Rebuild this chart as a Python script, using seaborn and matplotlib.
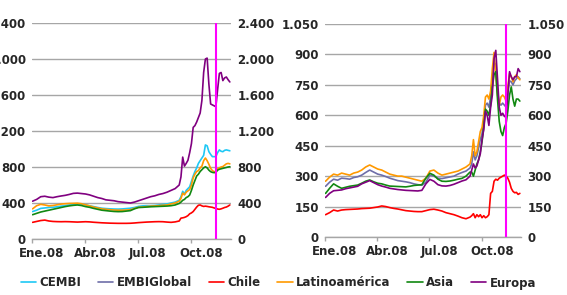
import pandas as pd
import numpy as np
import matplotlib
matplotlib.use("Agg")
import matplotlib.pyplot as plt
from matplotlib.lines import Line2D
import seaborn as sns

# ---------------- data ----------------
dates = list(pd.date_range("2008-01-02", "2008-09-10", freq="7D")) + \
        list(pd.date_range("2008-09-13", "2008-12-06", freq="3D"))

# left panel (corporate spreads, CEMBI)
left_cembi = [305, 320, 340, 345, 350, 352, 358, 365, 370, 378, 385, 390, 388, 380, 368, 360, 350, 342, 338,
              335, 333, 332, 334, 338, 342, 350, 362, 368, 370, 370, 372, 378, 385, 390, 400, 410, 430,
              470, 530, 500, 540, 560, 580, 640, 700, 750, 790, 840, 870, 900, 930, 1045, 1035, 970, 940,
              915, 915, 915, 960, 990, 975, 970, 985, 990, 985, 980]
left_chile = [185, 195, 205, 210, 200, 195, 193, 192, 193, 192, 190, 188, 190, 192, 190, 186, 183, 180, 178,
              176, 175, 174, 174, 174, 175, 178, 182, 185, 188, 190, 192, 193, 192, 188, 185, 190, 200,
              232, 235, 240, 248, 260, 280, 290, 305, 330, 355, 375, 378, 368, 362, 365, 362, 358, 355,
              352, 345, 340, 333, 330, 335, 342, 350, 355, 365, 378]
left_latam = [335, 370, 385, 378, 368, 372, 380, 388, 392, 395, 396, 398, 392, 380, 368, 355, 345, 335, 330,
              325, 322, 320, 320, 322, 325, 340, 352, 355, 360, 365, 367, 370, 375, 378, 390, 400, 420,
              450, 510, 490, 520, 535, 550, 600, 680, 720, 750, 760, 790, 810, 870, 900, 870, 830, 785,
              760, 748, 750, 780, 790, 800, 805, 820, 835, 840, 835]
left_asia = [270, 285, 300, 310, 320, 330, 340, 350, 360, 368, 374, 378, 372, 360, 352, 340, 330, 320, 315,
             310, 306, 304, 305, 310, 315, 335, 350, 352, 355, 358, 360, 362, 364, 366, 370, 378, 395,
             410, 430, 440, 460, 470, 489, 540, 600, 650, 700, 720, 750, 770, 790, 803, 790, 765, 748,
             740, 737, 740, 765, 775, 780, 785, 790, 795, 800, 803]
left_europa = [420, 440, 470, 475, 465, 460, 470, 478, 485, 495, 507, 510, 505, 500, 490, 475, 460, 450, 435,
               430, 425, 415, 410, 405, 400, 410, 425, 440, 455, 470, 480, 495, 505, 520, 540, 560, 600,
               690, 910, 810, 840, 875, 960, 1060, 1240, 1260, 1300, 1350, 1400, 1540, 1850, 2000, 2010, 1720, 1500,
               1490, 1480, 1470, 1660, 1840, 1850, 1760, 1790, 1800, 1770, 1745]

# right panel (sovereign spreads, EMBI)
right_embi = [250, 270, 285, 280, 290, 288, 285, 293, 297, 305, 318, 330, 320, 310, 305, 298, 290, 284, 278,
              275, 272, 268, 262, 258, 255, 270, 305, 300, 290, 288, 292, 296, 300, 310, 318, 325, 340,
              360, 420, 380, 400, 440, 480, 510, 570, 650, 660, 640, 690, 780, 860, 850, 720, 660, 650,
              660, 650, 640, 710, 770, 765, 750, 770, 780, 790, 780]
right_chile = [110, 120, 133, 128, 133, 135, 136, 137, 138, 140, 141, 142, 145, 148, 153, 150, 145, 141, 138,
               134, 130, 128, 126, 125, 125, 130, 135, 137, 133, 128, 120, 115, 110, 103, 95, 90, 98,
               105, 115, 95, 110, 100, 110, 95, 105, 95, 100, 110, 215, 225, 275, 285, 280, 290, 295,
               300, 305, 300, 290, 270, 240, 225, 218, 220, 210, 215]
right_latam = [275, 295, 310, 305, 315, 310, 305, 315, 320, 330, 345, 355, 345, 335, 330, 320, 310, 305, 300,
               300, 295, 290, 285, 280, 275, 290, 325, 330, 315, 305, 310, 315, 320, 325, 335, 345, 360,
               400, 480, 400, 420, 470, 520, 540, 600, 690, 700, 680, 720, 830, 910, 800, 700, 650, 690,
               700, 690, 670, 740, 805, 790, 765, 790, 800, 785, 775]
right_asia = [215, 240, 262, 250, 240, 245, 250, 253, 256, 265, 275, 281, 272, 265, 262, 256, 251, 250, 249,
              248, 247, 250, 254, 256, 258, 290, 314, 305, 285, 275, 274, 276, 280, 285, 289, 300, 320,
              320, 300, 330, 360, 380, 420, 470, 540, 630, 620, 600, 650, 740, 800, 815, 680, 570, 520,
              500, 540, 560, 620, 700, 740, 680, 645, 680, 680, 670]
right_europa = [195, 215, 228, 230, 232, 238, 242, 246, 250, 262, 270, 278, 268, 258, 251, 246, 240, 237, 234,
                232, 230, 229, 228, 227, 230, 262, 284, 275, 258, 252, 251, 254, 260, 268, 276, 282, 300,
                330, 360, 340, 350, 380, 410, 480, 530, 620, 600, 550, 640, 700, 880, 920, 780, 640, 600,
                610, 595, 590, 700, 815, 790, 775, 790, 790, 830, 815]

series_names = ["CEMBI", "EMBIGlobal", "Chile", "Latinoamérica", "Asia", "Europa"]
colors = ["#1EC8F5", "#6E6EA8", "#FF0000", "#FF9900", "#118811", "#800080"]
event_date = "2008-11-12"
left_ticks = [0, 400, 800, 1200, 1600, 2000, 2400]
right_ticks = [0, 150, 300, 450, 600, 750, 900, 1050]
xtick_dates = ["2008-01-01", "2008-04-01", "2008-07-01", "2008-10-01"]
xtick_labels = ["Ene.08", "Abr.08", "Jul.08", "Oct.08"]

# ---------------- build frames ----------------
def frame(d):
    rows = []
    for name, vals in d.items():
        for dt, v in zip(dates, vals):
            rows.append((dt, name, v))
    return pd.DataFrame(rows, columns=["fecha", "serie", "valor"])

df_left = frame({"CEMBI": left_cembi, "Chile": left_chile, "Latinoamérica": left_latam,
                 "Asia": left_asia, "Europa": left_europa})
df_right = frame({"EMBIGlobal": right_embi, "Chile": right_chile, "Latinoamérica": right_latam,
                  "Asia": right_asia, "Europa": right_europa})
palette = dict(zip(series_names, colors))

# ---------------- style ----------------
sns.set_theme(style="white")
plt.rcParams["font.family"] = ["DejaVu Sans"]
plt.rcParams["font.weight"] = "bold"
FS = 8.5

W, H = 567, 295
fig = plt.figure(figsize=(W / 100, H / 100), dpi=100)

def px_axes(x0, x1, ytop, ybot):
    return fig.add_axes([x0 / W, (H - ybot) / H, (x1 - x0) / W, (ybot - ytop) / H])

axL = px_axes(32, 231, 23, 239)
axR = px_axes(325, 521, 24, 237)

fmt = lambda v, p: f"{int(v):,}".replace(",", ".")
xmin, xmax = pd.Timestamp("2008-01-01"), pd.Timestamp("2008-12-08")
tick_pos = pd.to_datetime(xtick_dates)
label_pos = tick_pos + pd.Timedelta(days=17)   # labels sit a little right of each tick

for ax, df, ticks in [(axL, df_left, left_ticks), (axR, df_right, right_ticks)]:
    sns.lineplot(data=df, x="fecha", y="valor", hue="serie", palette=palette,
                 ax=ax, legend=False, linewidth=1.2, estimator=None)
    ax.set_xlim(xmin, xmax)
    ax.set_ylim(ticks[0], ticks[-1])
    ax.set_yticks(ticks)
    ax.yaxis.set_major_formatter(plt.FuncFormatter(fmt))
    ax.set_xticks(tick_pos)
    ax.set_xticklabels([""] * len(tick_pos))
    ax.set_xticks(label_pos, minor=True)
    ax.set_xticklabels(xtick_labels, minor=True, fontweight="bold")
    ax.set_xlabel("")
    ax.set_ylabel("")
    ax.grid(axis="y", color="#A6A6A6", linewidth=1.0)
    ax.grid(axis="x", visible=False, which="both")
    ax.set_axisbelow(True)
    for s in ["top", "left", "right"]:
        ax.spines[s].set_visible(False)
    ax.spines["bottom"].set_color("#A6A6A6")
    ax.spines["bottom"].set_linewidth(1.0)
    ax.tick_params(axis="x", which="major", length=3, width=1, color="#A6A6A6", bottom=True)
    ax.tick_params(axis="x", which="minor", length=0, pad=6, labelsize=FS, bottom=True)
    ax.tick_params(axis="y", length=0, pad=4.5, labelsize=FS)
    for lab in ax.get_yticklabels():
        lab.set_fontweight("bold")
    ax.axvline(pd.Timestamp(event_date), color="#FF00FF", linewidth=1.5, zorder=5)
    tw = ax.twinx()
    tw.set_ylim(ticks[0], ticks[-1])
    tw.set_yticks(ticks)
    tw.yaxis.set_major_formatter(plt.FuncFormatter(fmt))
    tw.tick_params(axis="y", length=0, pad=4.5, labelsize=FS)
    for lab in tw.get_yticklabels():
        lab.set_fontweight("bold")
    for s in tw.spines.values():
        s.set_visible(False)
    tw.grid(False)

handles = [Line2D([0], [0], color=c, lw=1.2) for c in colors]
fig.legend(handles, series_names, loc="center", bbox_to_anchor=(278.5 / W, 12 / H), ncol=6,
           frameon=False, handlelength=1.3, handletextpad=0.3, columnspacing=1.4,
           prop={"weight": "bold", "size": FS})

fig.savefig("out.png", dpi=100)
